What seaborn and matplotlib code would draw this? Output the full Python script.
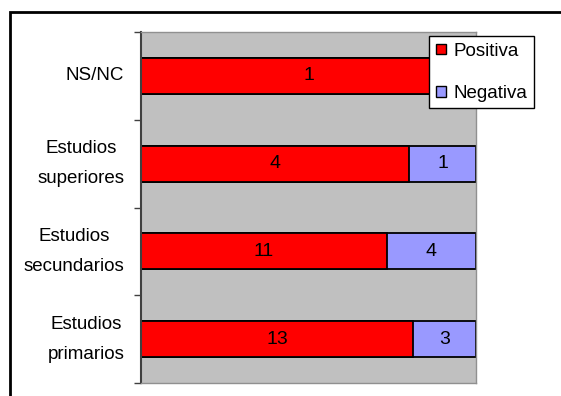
import matplotlib
matplotlib.use('Agg')
import matplotlib.pyplot as plt
import seaborn as sns
import pandas as pd
from matplotlib.patches import Rectangle, Patch

# datos
categorias = ['NS/NC', 'Estudios\nsuperiores', 'Estudios\nsecundarios', 'Estudios\nprimarios']
positiva = [1, 4, 11, 13]
negativa = [0, 1, 4, 3]

sns.set_theme(style='white')
plt.rcParams['font.family'] = ['Liberation Sans', 'DejaVu Sans']
plt.rcParams['text.color'] = 'black'
plt.rcParams['ytick.color'] = 'black'
plt.rcParams['ytick.labelcolor'] = 'black'

df = pd.DataFrame({'cat': categorias, 'pos': positiva, 'neg': negativa})
df['total'] = df['pos'] + df['neg']
df['pos_pct'] = df['pos'] / df['total']
df['tot_pct'] = 1.0

fig = plt.figure(figsize=(5.61, 3.96), dpi=100)
ax = fig.add_axes([141 / 561, 1 - 383 / 396, 335 / 561, 351 / 396])

# marco exterior
fig.patches.append(Rectangle((10 / 561, -0.1), 1.2, 1 - 12 / 396 + 0.1, transform=fig.transFigure,
                             fill=False, edgecolor='black', linewidth=2, clip_on=False))

ax.set_facecolor('#C0C0C0')

# barras apiladas al 100%
sns.barplot(data=df, y='cat', x='tot_pct', color='#9999FF', width=0.41, orient='h',
            edgecolor='black', linewidth=1.3, saturation=1, ax=ax)
sns.barplot(data=df, y='cat', x='pos_pct', color='#FF0000', width=0.41, orient='h',
            edgecolor='black', linewidth=1.3, saturation=1, ax=ax)

neg_bars = ax.containers[0]
pos_bars = ax.containers[1]
ax.bar_label(pos_bars, labels=[str(v) for v in positiva], label_type='center', fontsize=14,
             color='black')
ax.bar_label(neg_bars, labels=[str(v) if v > 0 else '' for v in negativa], label_type='center',
             fontsize=14, color='black')
# la etiqueta de negativa debe ir en el tramo azul
for txt, p, n in zip(ax.texts[len(positiva):], df['pos_pct'], df['neg']):
    if n > 0:
        txt.xy = ((p + 1) / 2, txt.xy[1])

ax.set_xlim(0, 1)
ax.set_ylim(3.5, -0.5)
ax.set_xlabel('')
ax.set_ylabel('')
ax.set_xticks([])
ax.set_yticks(range(len(categorias)))
ax.set_yticklabels(categorias, fontsize=13.5, linespacing=2.0, multialignment='center')
for lab in ax.get_yticklabels():
    lab.set_verticalalignment('center')
ax.set_yticks([-0.5, 0.5, 1.5, 2.5, 3.5], minor=True)
ax.tick_params(axis='y', which='major', length=0, pad=12)
ax.tick_params(axis='y', which='minor', length=5, width=1, color='#404040', left=True)

for s in ['top', 'right', 'bottom']:
    ax.spines[s].set_color('#909090')
    ax.spines[s].set_linewidth(1)
ax.spines['left'].set_color('#404040')
ax.spines['left'].set_linewidth(1.5)

handles = [Patch(facecolor='#FF0000', edgecolor='black', label='Positiva'),
           Patch(facecolor='#9999FF', edgecolor='black', label='Negativa')]
leg = fig.legend(handles=handles, loc='upper left', bbox_to_anchor=(429 / 561, 1 - 36 / 396),
                 fontsize=13.5, frameon=True, fancybox=False, framealpha=1, handlelength=0.55,
                 handleheight=0.5, handletextpad=0.4, borderpad=0.35, borderaxespad=0,
                 labelspacing=1.35)
leg.get_frame().set_edgecolor('black')
leg.get_frame().set_linewidth(1)

fig.savefig('out.png', dpi=100)
